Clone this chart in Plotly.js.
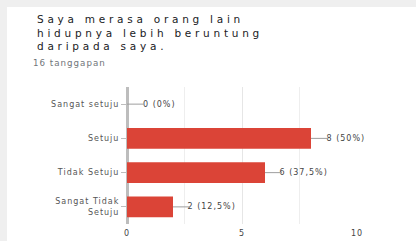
<!DOCTYPE html>
<html>
<head>
<meta charset="utf-8">
<script src="https://cdn.plot.ly/plotly-3.0.1.min.js"></script>
<style>
  html, body { margin: 0; padding: 0; width: 416px; height: 241px; background: #efefef; overflow: hidden; }
  #chart { position: absolute; left: 7px; top: 7px; width: 409px; height: 234px; background: #fff; }
  #chart .gtitle { letter-spacing: 3.75px; }
  #chart .annotation-text { letter-spacing: 1px; }
  #chart .ytick text, #chart .xtick text { letter-spacing: 1px; }
</style>
</head>
<body>
<div id="chart"></div>
<script>
const titleLines = ["Saya merasa orang lain", "hidupnya lebih beruntung", "daripada saya."];
const subtitle = "16 tanggapan";
const categories = ["Sangat setuju", "Setuju", "Tidak Setuju", "Sangat Tidak<br>Setuju"];
const counts = [0, 8, 6, 2];
const labels = ["0 (0%)", "8 (50%)", "6 (37,5%)", "2 (12,5%)"];

const W = 409, H = 234;
const M = {l: 120, r: 59, t: 80, b: 17};
const pw = W - M.l - M.r, ph = H - M.t - M.b;
const px = x => (x - M.l) / pw;
const py = y => 1 + (M.t - y) / ph;

const annotations = [];
annotations.push({
  text: subtitle, xref: 'paper', yref: 'paper', x: px(30), y: py(56),
  xanchor: 'left', yanchor: 'middle', showarrow: false,
  font: {family: 'DejaVu Sans', size: 8.7, color: '#70757a'}
});
categories.forEach((c, i) => annotations.push({
  text: labels[i], x: counts[i], y: c, xref: 'x', yref: 'y',
  showarrow: true, arrowhead: 0, arrowwidth: 1, arrowcolor: '#9e9e9e',
  ax: 17, ay: 0, xanchor: 'left', standoff: 0, startstandoff: 0,
  font: {family: 'DejaVu Sans', size: 8, color: '#444'}
}));

Plotly.newPlot('chart', [{
  type: 'bar', orientation: 'h',
  x: counts, y: categories, width: 0.6,
  marker: {color: '#db4437', line: {width: 0}},
  hoverinfo: 'skip'
}], {
  width: W, height: H,
  margin: M,
  paper_bgcolor: '#fff', plot_bgcolor: '#fff',
  showlegend: false,
  title: {
    text: titleLines.join('<br>'),
    xref: 'container', yref: 'container',
    x: 30 / W, xanchor: 'left', y: 1 - 16 / H, yanchor: 'top',
    font: {family: 'DejaVu Sans', size: 10.5, color: '#202124'}
  },
  xaxis: {
    range: [0, 10], dtick: 5, tick0: 0, fixedrange: true,
    showgrid: true, gridcolor: '#e6e6e6', gridwidth: 1,
    minor: {dtick: 2.5, showgrid: true, gridcolor: '#eeeeee', gridwidth: 1},
    zeroline: true, zerolinecolor: '#bdbdbd', zerolinewidth: 3,
    showline: false, ticks: '', ticklabelstandoff: 3,
    tickfont: {family: 'DejaVu Sans', size: 8, color: '#444'}
  },
  yaxis: {
    type: 'category', categoryorder: 'array', categoryarray: categories,
    autorange: 'reversed', fixedrange: true,
    showgrid: false, zeroline: false, showline: false,
    ticks: 'outside', ticklen: 5, tickcolor: '#bdbdbd', tickwidth: 1,
    tickfont: {family: 'DejaVu Sans', size: 8, color: '#555'}
  },
  annotations: annotations
}, {staticPlot: true, displayModeBar: false});
</script>
</body>
</html>
